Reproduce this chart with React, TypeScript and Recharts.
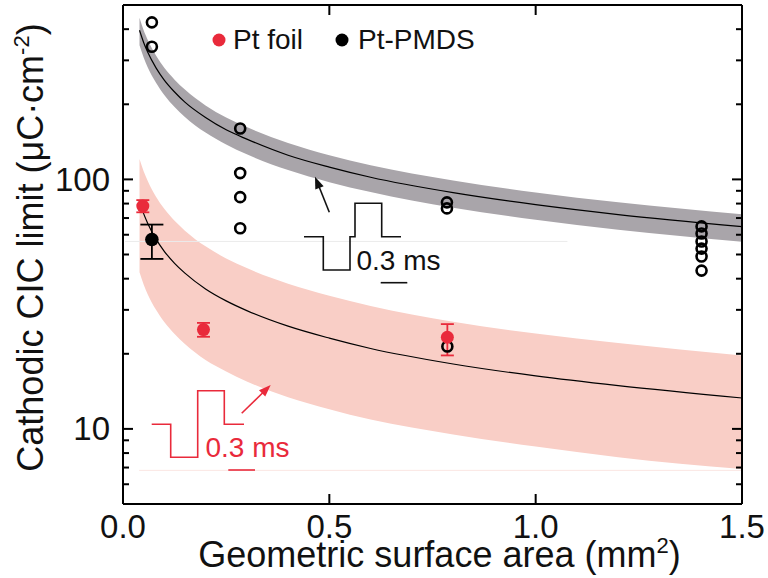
import React from 'react';
import {
  ComposedChart, Area, Line, Scatter, XAxis, YAxis, ErrorBar, ReferenceLine,
} from 'recharts';

// ---- Fit curves ----
const fitX = [0.04, 0.05, 0.06, 0.08, 0.1, 0.125, 0.15, 0.2, 0.25, 0.3, 0.4, 0.5, 0.6, 0.8, 1.0, 1.2, 1.5];
const pmdsFit = [396, 354, 323, 280, 250, 224, 204, 177, 158, 145, 125, 112, 102, 88.5, 79.2, 72.3, 64.7];
const pmdsBandHigh = [444, 396, 362, 314, 280, 251, 229, 198, 177, 162, 140, 125, 114, 99, 88.7, 81, 72.5];
const pmdsBandLow = [345, 308, 281, 244, 218, 195, 178, 154, 138, 126, 109, 97.5, 89, 77, 68.9, 62.9, 56.3];
const foilFit = [81.5, 72.9, 66.6, 57.6, 51.5, 46.1, 42.1, 36.4, 32.6, 29.8, 25.8, 23.1, 21.0, 18.2, 16.3, 14.9, 13.3];
const foilBandHigh = [120.6, 107.9, 98.6, 85.2, 76.2, 68.2, 62.3, 53.9, 48.2, 44.1, 38.2, 34.2, 31.1, 26.9, 24.1, 22.1, 19.7];
const foilBandLow = [42.4, 37.9, 34.6, 30.0, 26.8, 24.0, 21.9, 18.9, 17.0, 15.5, 13.4, 12.0, 10.9, 9.5, 8.5, 7.7, 6.9];

// ---- Individual Pt-PMDS measurements (open circles) ----
const openX = [0.07, 0.07, 0.284, 0.284, 0.284, 0.284, 0.785, 0.785, 1.402, 1.402, 1.402, 1.402, 1.402, 1.402];
const openY = [426, 340, 160, 106, 84.9, 63.7, 80.9, 76.5, 64.8, 60.7, 56.4, 52.8, 49.1, 43.1];

// ---- Pt foil means ----
const foilX = [0.048, 0.195, 0.786];
const foilY = [78.2, 25.0, 23.3];
const foilErrLow = [4.4, 1.6, 3.6];
const foilErrHigh = [4.4, 1.6, 3.0];

// ---- Pt-PMDS means ----
const pmdsX = [0.07];
const pmdsY = [57.4];
const pmdsErrLow = [9.4];
const pmdsErrHigh = [8.5];
const pmdsRingX = [0.786];
const pmdsRingY = [21.4];

// ---- Axis ticks ----
const xTicks = [0, 0.5, 1.0, 1.5];
const yTicks = [6, 7, 8, 9, 10, 20, 30, 40, 50, 60, 70, 80, 90, 100, 200, 300, 400];
const yMajor = [10, 100];

const FONT = '"Liberation Sans", Arial, Helvetica, sans-serif';
const RED = '#e92a3b';
const GRAY_BAND = '#a9a5aa';
const PINK_BAND = '#f9cec6';

const curveData = fitX.map((x, i) => ({
  x,
  pmds: pmdsFit[i],
  pmdsBand: [pmdsBandLow[i], pmdsBandHigh[i]],
  foil: foilFit[i],
  foilBand: [foilBandLow[i], foilBandHigh[i]],
}));
const openData = openX.map((x, i) => ({ x, y: openY[i] }));
const foilData = foilX.map((x, i) => ({ x, y: foilY[i], err: [foilErrLow[i], foilErrHigh[i]] }));
const pmdsData = pmdsX.map((x, i) => ({ x, y: pmdsY[i], err: [pmdsErrLow[i], pmdsErrHigh[i]] }));
const ringData = pmdsRingX.map((x, i) => ({ x, y: pmdsRingY[i] }));

const LeftTick = (props: any) => {
  const { x, y, payload } = props;
  const v = payload.value;
  const major = yMajor.includes(v);
  return (
    <g>
      <line x1={x} y1={y} x2={x + (major ? 10 : 6)} y2={y} stroke="#000" strokeWidth={2} />
      {major && (
        <text x={x - 13} y={y} textAnchor="end" dominantBaseline="central" fontSize={33} fill="#111" fontFamily={FONT}>
          {v}
        </text>
      )}
    </g>
  );
};
const RightTick = (props: any) => {
  const { x, y, payload } = props;
  const major = yMajor.includes(payload.value);
  return <line x1={x} y1={y} x2={x - (major ? 10 : 6)} y2={y} stroke="#000" strokeWidth={2} />;
};
const BottomTick = (props: any) => {
  const { x, y, payload } = props;
  return (
    <g>
      <line x1={x} y1={y} x2={x} y2={y - 10} stroke="#000" strokeWidth={2} />
      <text x={x} y={y + 34} textAnchor="middle" fontSize={33} fill="#111" fontFamily={FONT}>
        {Number(payload.value).toFixed(1)}
      </text>
    </g>
  );
};
const TopTick = (props: any) => {
  const { x, y } = props;
  return <line x1={x} y1={y} x2={x} y2={y + 10} stroke="#000" strokeWidth={2} />;
};

const OpenCircle = (p: any) => (
  <circle cx={p.cx} cy={p.cy} r={5} fill="none" stroke="#000" strokeWidth={2.6} />
);
const BlackDot = (p: any) => <circle cx={p.cx} cy={p.cy} r={6.8} fill="#000" />;
const RedDot = (p: any) => <circle cx={p.cx} cy={p.cy} r={6.5} fill={RED} />;

function arrowHead(x1: number, y1: number, x2: number, y2: number, len: number, half: number) {
  const dx = x2 - x1;
  const dy = y2 - y1;
  const d = Math.hypot(dx, dy);
  const ux = dx / d;
  const uy = dy / d;
  const bx = x2 - ux * len;
  const by = y2 - uy * len;
  const px = -uy;
  const py = ux;
  return `${x2},${y2} ${bx + px * half},${by + py * half} ${bx - px * half},${by - py * half}`;
}

const Overlay = () => (
  <svg width={768} height={578} style={{ position: 'absolute', left: 0, top: 0, pointerEvents: 'none' }}>
    {/* legend */}
    <circle cx={219} cy={40} r={6.5} fill={RED} />
    <text x={233} y={49} fontSize={28} fill="#111" fontFamily={FONT}>Pt foil</text>
    <circle cx={342} cy={40} r={6.5} fill="#000" />
    <text x={358} y={49} fontSize={28} fill="#111" fontFamily={FONT}>Pt-PMDS</text>

    {/* black waveform inset */}
    <polyline
      points="304,236.7 323.3,236.7 323.3,270 350,270 350,236.7 355,236.7 355,203.3 381.7,203.3 381.7,236.7 401,236.7"
      fill="none" stroke="#111" strokeWidth={1.6}
    />
    <text x={356.5} y={270} fontSize={28} fill="#111" fontFamily={FONT}>0.3 ms</text>
    <line x1={380.7} y1={282.7} x2={407.3} y2={282.7} stroke="#111" strokeWidth={1.6} />
    <line x1={329.3} y1={212.3} x2={318} y2={184} stroke="#111" strokeWidth={1.6} />
    <polygon points={arrowHead(329.3, 212.3, 315, 176.7, 12, 4.5)} fill="#111" />

    {/* red waveform inset */}
    <polyline
      points="151.7,424.3 170.7,424.3 170.7,457.3 197.7,457.3 197.7,390.7 224.3,390.7 224.3,424.3 244,424.3"
      fill="none" stroke={RED} strokeWidth={1.6}
    />
    <text x={205.5} y={456.7} fontSize={28} fill={RED} fontFamily={FONT}>0.3 ms</text>
    <line x1={228.3} y1={470} x2={255} y2={470} stroke={RED} strokeWidth={1.6} />
    <line x1={241.7} y1={413.3} x2={263} y2={392.5} stroke={RED} strokeWidth={1.6} />
    <polygon points={arrowHead(241.7, 413.3, 270.7, 385, 12, 4.5)} fill={RED} />

    {/* axis titles */}
    <text
      transform="translate(43,247.5) rotate(-90)"
      textAnchor="middle" fontSize={36} fill="#111" fontFamily={FONT}
    >
      Cathodic CIC limit (μC·cm<tspan dy={-14} fontSize={22}>-2</tspan><tspan dy={14}>)</tspan>
    </text>
    <text x={439.5} y={567} textAnchor="middle" fontSize={36} fill="#111" fontFamily={FONT}>
      Geometric surface area (mm<tspan dy={-14} fontSize={22}>2</tspan><tspan dy={14}>)</tspan>
    </text>
  </svg>
);

export default function App() {
  return (
    <div style={{ position: 'absolute', left: 0, top: 0, width: 768, height: 578, background: '#fff' }}>
      <ComposedChart
        width={768}
        height={578}
        data={curveData}
        margin={{ top: 0, right: 0, bottom: 0, left: 0 }}
      >
        <XAxis
          dataKey="x" type="number" domain={[0, 1.5]} ticks={xTicks} allowDataOverflow
          height={74} tickSize={0} tickMargin={0} interval={0} tick={<BottomTick />}
          axisLine={{ stroke: '#000', strokeWidth: 2 }} tickLine={false}
        />
        <XAxis
          xAxisId="top" orientation="top" dataKey="x" type="number" domain={[0, 1.5]} ticks={xTicks}
          allowDataOverflow height={5} tickSize={0} tickMargin={0} interval={0} tick={<TopTick />}
          axisLine={{ stroke: '#000', strokeWidth: 2 }} tickLine={false}
        />
        <YAxis
          dataKey="y" type="number" scale="log" domain={[5, 500]} ticks={yTicks} allowDataOverflow
          width={123} tickSize={0} tickMargin={0} interval={0} tick={<LeftTick />}
          axisLine={{ stroke: '#000', strokeWidth: 2 }} tickLine={false}
        />
        <YAxis
          yAxisId="r" orientation="right" dataKey="y" type="number" scale="log" domain={[5, 500]}
          ticks={yTicks} allowDataOverflow width={26} tickSize={0} tickMargin={0} interval={0}
          tick={<RightTick />} axisLine={{ stroke: '#000', strokeWidth: 2 }} tickLine={false}
        />

        <ReferenceLine
          segment={[{ x: 0.005, y: 56.4 }, { x: 1.077, y: 56.4 }]}
          stroke="#ebebeb" strokeWidth={1} ifOverflow="visible"
        />
        <ReferenceLine
          segment={[{ x: 0.039, y: 6.82 }, { x: 1.5, y: 6.82 }]}
          stroke="#fbe6e3" strokeWidth={1} ifOverflow="visible"
        />

        <Area
          dataKey="foilBand" type="monotone" fill={PINK_BAND} fillOpacity={1} stroke="none"
          isAnimationActive={false} activeDot={false}
        />
        <Area
          dataKey="pmdsBand" type="monotone" fill={GRAY_BAND} fillOpacity={1} stroke="none"
          isAnimationActive={false} activeDot={false}
        />
        <Line dataKey="pmds" type="monotone" stroke="#000" strokeWidth={1.2} dot={false} isAnimationActive={false} activeDot={false} />
        <Line dataKey="foil" type="monotone" stroke="#000" strokeWidth={1.2} dot={false} isAnimationActive={false} activeDot={false} />

        <Scatter data={openData} shape={OpenCircle} isAnimationActive={false} />
        <Scatter data={ringData} shape={OpenCircle} isAnimationActive={false} />
        <Scatter data={pmdsData} shape={BlackDot} isAnimationActive={false}>
          <ErrorBar dataKey="err" direction="y" width={11.5} stroke="#000" strokeWidth={1.8} />
        </Scatter>
        <Scatter data={foilData} shape={RedDot} isAnimationActive={false}>
          <ErrorBar dataKey="err" direction="y" width={6.5} stroke={RED} strokeWidth={1.8} />
        </Scatter>
      </ComposedChart>
      <Overlay />
    </div>
  );
}
